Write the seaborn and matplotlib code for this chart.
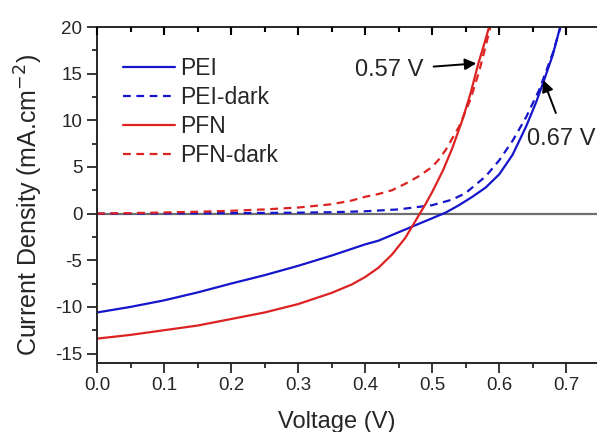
import numpy as np
import pandas as pd
import seaborn as sns
import matplotlib.pyplot as plt
import matplotlib.lines as mlines
from matplotlib.ticker import MultipleLocator

# J-V data (V in volts, J in mA/cm2)
pei_v = [0, 0.05, 0.1, 0.15, 0.2, 0.25, 0.3, 0.35, 0.4, 0.42, 0.45, 0.48, 0.5,
         0.52, 0.54, 0.56, 0.58, 0.6, 0.62, 0.64, 0.655, 0.667, 0.68, 0.691, 0.7]
pei_j = [-10.6, -10.0, -9.3, -8.45, -7.5, -6.6, -5.6, -4.5, -3.3, -2.9, -2.0,
         -1.1, -0.5, 0.1, 0.9, 1.8, 2.8, 4.2, 6.3, 9.3, 11.9, 14.3, 17.0, 20.0, 22.5]

pei_dark_v = [0, 0.1, 0.2, 0.3, 0.35, 0.4, 0.45, 0.5, 0.53, 0.55, 0.58, 0.6,
              0.62, 0.64, 0.66, 0.68, 0.69, 0.7]
pei_dark_j = [0, 0.02, 0.05, 0.1, 0.15, 0.25, 0.45, 0.9, 1.5, 2.2, 4.0, 5.7,
              7.8, 10.3, 13.3, 17.2, 19.6, 22.5]

pfn_v = [0, 0.05, 0.1, 0.15, 0.2, 0.25, 0.3, 0.35, 0.38, 0.4, 0.42, 0.44, 0.46,
         0.47, 0.48, 0.49, 0.5, 0.516, 0.53, 0.545, 0.557, 0.569, 0.577, 0.585,
         0.595]
pfn_j = [-13.4, -13.0, -12.5, -12.0, -11.3, -10.6, -9.7, -8.5, -7.6, -6.8,
         -5.8, -4.4, -2.6, -1.4, -0.2, 1.0, 2.3, 4.6, 7.0, 10.0, 12.8, 16.1,
         18.0, 20.0, 22.5]

pfn_dark_v = [0, 0.05, 0.1, 0.15, 0.2, 0.25, 0.3, 0.35, 0.38, 0.4, 0.42, 0.44,
              0.46, 0.48, 0.5, 0.51, 0.52, 0.54, 0.557, 0.57, 0.58, 0.587, 0.595]
pfn_dark_j = [0, 0.05, 0.12, 0.2, 0.3, 0.45, 0.65, 1.0, 1.4, 1.8, 2.1, 2.5,
              3.2, 4.0, 5.0, 5.8, 6.8, 9.3, 12.2, 15.2, 18.0, 20.0, 22.5]

labels = ['PEI', 'PEI-dark', 'PFN', 'PFN-dark']
colors = ['#1515cc', '#1515cc', '#dd2222', '#dd2222']
styles = ['-', '--', '-', '--']

series = [(pei_v, pei_j), (pei_dark_v, pei_dark_j),
          (pfn_v, pfn_j), (pfn_dark_v, pfn_dark_j)]

sns.set_style('ticks')
plt.rcParams['font.family'] = ['Liberation Sans', 'DejaVu Sans']
plt.rcParams['axes.unicode_minus'] = False

fig = plt.figure(figsize=(5.97, 4.32), dpi=100)
ax = fig.add_axes([0.1625, 0.16, 0.8375, 0.7775])

ax.axhline(0, color='#6e6e6e', lw=1.6, zorder=1)

for (v, j), lab, c in zip(series, labels, colors):
    df = pd.DataFrame({'V': v, 'J': j})
    sns.lineplot(data=df, x='V', y='J', ax=ax, color=c, lw=1.6, label=lab)
for line, ls in zip(ax.lines[1:], styles):
    if ls == '--':
        line.set_linestyle('--')
        line.set_dashes((3.5, 2.5))

xmax = 0.746
ax.set_xlim(0, xmax)
ax.set_ylim(-16, 20)
major_x = MultipleLocator(0.1)
minor_x = MultipleLocator(0.05)
ax.xaxis.set_major_locator(major_x)
ax.xaxis.set_minor_locator(minor_x)
ax.yaxis.set_major_locator(MultipleLocator(5))
ax.yaxis.set_minor_locator(MultipleLocator(2.5))
ax.tick_params(which='both', top=False, right=False, direction='out',
               width=1.3, labelsize=13.5)
ax.tick_params(which='major', length=7)
ax.tick_params(which='minor', length=3.5)
ax.xaxis.set_major_formatter(plt.FuncFormatter(lambda x, p: f'{x:.1f}'))
ax.spines['right'].set_visible(False)
for s in ['left', 'bottom', 'top']:
    ax.spines[s].set_linewidth(1.4)

ax.set_xlabel('Voltage (V)', fontsize=17)
ax.set_ylabel('Current Density (mA.cm$^{-2}$)', fontsize=18)
ax.xaxis.set_label_coords(0.48, -0.142)
ax.yaxis.set_label_coords(-0.105, 0.47)

ax.annotate('0.57 V', xy=(0.566, 16.1), xytext=(0.385, 15.4),
            fontsize=17, va='center', ha='left',
            arrowprops=dict(arrowstyle='-|>', color='black', lw=1.4,
                            shrinkA=5, shrinkB=0))
ax.annotate('0.67 V', xy=(0.666, 14.3), xytext=(0.642, 8.0),
            fontsize=17, va='center', ha='left',
            arrowprops=dict(arrowstyle='-|>', color='black', lw=1.4,
                            shrinkA=9, shrinkB=0,
                            relpos=(0.5, 1.0)))

leg = ax.legend(loc='upper left', bbox_to_anchor=(0.051, 0.912), frameon=False,
                fontsize=16.5, handlelength=2.27, handletextpad=0.25,
                labelspacing=0.27, borderaxespad=0, borderpad=0)

# top axis ticks pointing inward, at the same locator positions
trans = ax.get_xaxis_transform()
top_major = [x for x in major_x.tick_values(0, xmax) if 0 <= x <= xmax]
top_minor = [x for x in minor_x.tick_values(0, xmax)
             if 0 <= x <= xmax and x not in top_major]
ax.plot(top_major, [1] * len(top_major), transform=trans, ls='none',
        marker=mlines.TICKDOWN, ms=6, mew=1.5, color='black', clip_on=False,
        zorder=10)
ax.plot(top_minor, [1] * len(top_minor), transform=trans, ls='none',
        marker=mlines.TICKDOWN, ms=3.5, mew=1.5, color='black', clip_on=False,
        zorder=10)

fig.savefig('out.png', dpi=100)
